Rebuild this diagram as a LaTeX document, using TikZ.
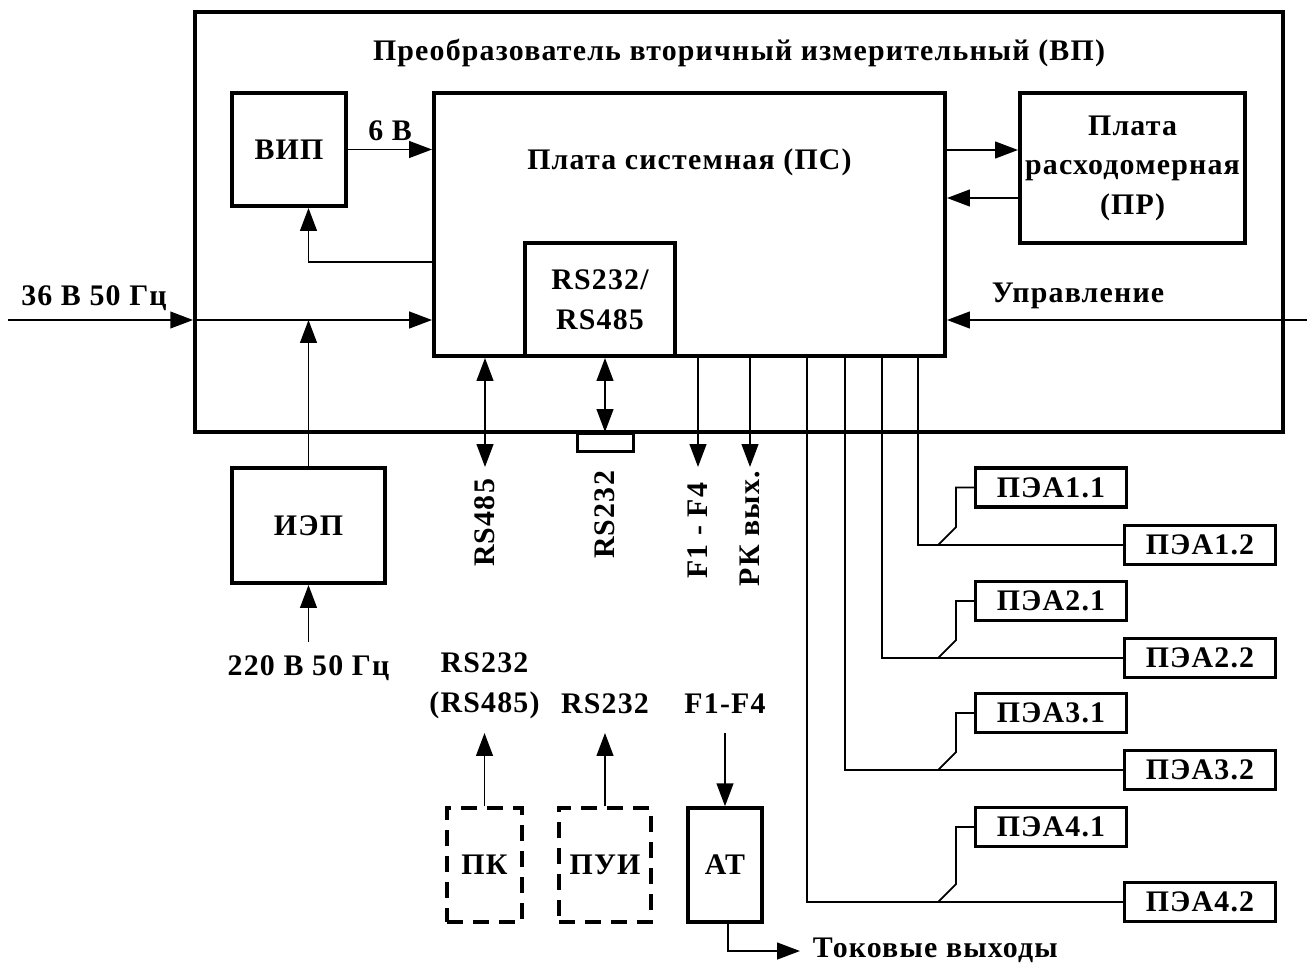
\documentclass[tikz,border=0pt]{standalone}
\usepackage{fontspec}
\setmainfont{Liberation Serif}[LetterSpace=4]
\usetikzlibrary{arrows.meta}

\begin{document}
\begin{tikzpicture}[x=0.02cm, y=-0.02cm, line width=1.1pt,
	every node/.style={font=\fontsize{17}{22.5}\selectfont\bfseries},
	>={Triangle[length=13pt, width=9.5pt]},
	box/.style={draw, line width=0.08cm, inner sep=0pt, align=center},
	dbox/.style={box, dash pattern=on 0.32cm off 0.2cm},
	pea/.style={box, line width=0.07cm, minimum height=0.78cm, minimum width=3.02cm}]
	\useasboundingbox (0,0) rectangle (1307,963);
	\node[box, minimum width=21.76cm, minimum height=8.4cm] (vp) at (739,222) {};
	\node[anchor=base] (ttl) at (739,61) {Преобразователь вторичный измерительный (ВП)};
	\node[box, minimum width=2.28cm, minimum height=2.26cm] (vip) at (289,149.5) {ВИП};
	\node[box, minimum width=10.22cm, minimum height=5.26cm] (ps) at (689.5,224.5) {};
	\node[anchor=base] (pslbl) at (689.5,169) {Плата системная (ПС)};
	\node[box, minimum width=3cm, minimum height=2.26cm] (rs) at (600,299.5) {RS232/\\RS485};
	\node[box, minimum width=4.5cm, minimum height=3cm] (pr) at (1132.5,168) {Плата\\расходомерная\\(ПР)};
	\node[box, minimum width=3.06cm, minimum height=2.3cm] (iep) at (308.5,525.5) {ИЭП};
	\node[box, line width=0.06cm, minimum width=1.12cm, minimum height=0.36cm, anchor=north] (rsconn) at (605,432) {};

	\draw[->] (vip.east) -- (ps.west |- vip.east) node[midway, above=1pt] (lbl6v) {6 В};
	\draw[->] (ps.west |- 0,262) -| (vip.south -| iep.north);
	\draw[->] (ps.east |- 0,150) -- (pr.west |- 0,150);
	\draw[->] (pr.west |- 0,198) -- (ps.east |- 0,198);

	\coordinate (in36) at (8,320);
	\draw[->] (in36) -- (vp.west |- in36);
	\draw[->] (vp.west |- in36) -- (ps.west |- in36);
	\node[anchor=base] (lbl36) at (94,305) {36 В 50 Гц};
	\draw[->] (iep.north) -- (iep.north |- in36);
	\coordinate (in220) at (308.5,642);
	\draw[->] (in220) -- (iep.south);
	\node[anchor=base] (lbl220) at (308.5,675) {220 В 50 Гц};
	\coordinate (inupr) at (1307,320);
	\draw[->] (inupr) -- (ps.east |- inupr);
	\node[anchor=base] (lblupr) at (1078,302) {Управление};

	\coordinate (out485) at (485,467);
	\draw[<->] (ps.south -| out485) -- (out485);
	\node[rotate=90, anchor=east, inner sep=0pt] (lbl485) at (485,478) {RS485};
	\draw[<->] (rs.south -| rsconn.north) -- (rsconn.north);
	\node[rotate=90, anchor=east, inner sep=0pt] (lbl232) at (605,470) {RS232};
	\coordinate (outf) at (698,467);
	\draw[->] (ps.south -| outf) -- (outf);
	\node[rotate=90, anchor=east, inner sep=0pt] (lblf) at (698,482) {F1 - F4};
	\coordinate (outrk) at (750,467);
	\draw[->] (ps.south -| outrk) -- (outrk);
	\node[rotate=90, anchor=east, inner sep=0pt] (lblrk) at (750,470) {РК вых.};

	\foreach \i/\x/\ya/\yb in {1/918/487.5/545, 2/882/601/658, 3/845/713/770, 4/807/827/902} {
		\node[pea] (pea\i1) at (1051,\ya) {ПЭА\i.1};
		\node[pea] (pea\i2) at (1200,\yb) {ПЭА\i.2};
		\draw[line width=1pt] (ps.south -| \x,0) |- (pea\i2.west);
		\draw[line width=1pt] (pea\i2.west -| 938,0) -- ++(18,-18) |- (pea\i1.west);
	}

	\node[dbox, minimum width=1.5cm, minimum height=2.28cm] (pk) at (484.5,865) {ПК};
	\node[dbox, minimum width=1.84cm, minimum height=2.28cm] (pui) at (605,865) {ПУИ};
	\node[box, line width=0.07cm, minimum width=1.48cm, minimum height=2.28cm] (at) at (725,865) {АТ};
	\coordinate (pkout) at (484.5,733);
	\draw[->] (pk.north) -- (pkout);
	\node[align=center, inner sep=0pt] (lblpk) at (484.5,686) {RS232\\(RS485)};
	\coordinate (puiout) at (605,733);
	\draw[->] (pui.north) -- (puiout);
	\node[anchor=base] (lblpui) at (605,713) {RS232};
	\coordinate (atin) at (725,733);
	\draw[->] (atin) -- (at.north);
	\node[anchor=base] (lblat) at (725,713) {F1-F4};
	\coordinate (tok) at (800,951);
	\draw[->] (at.south -| 728,0) |- (tok);
	\node[anchor=base west, inner sep=0pt] (lbltok) at (812,957) {Токовые выходы};
\end{tikzpicture}
\end{document}
